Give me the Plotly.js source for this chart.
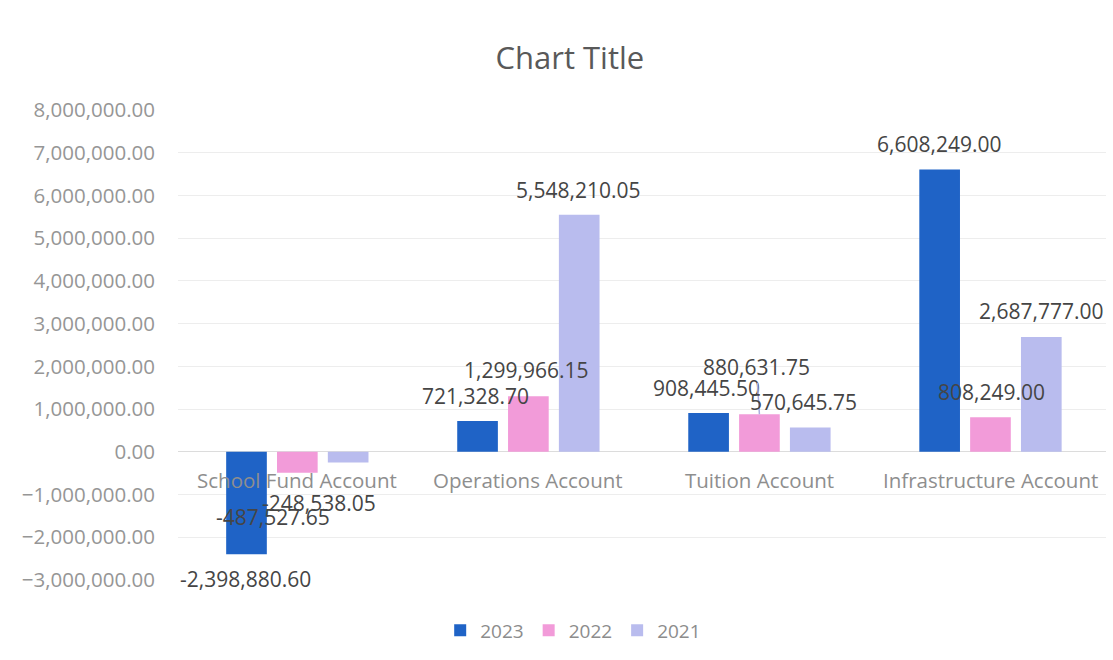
<!DOCTYPE html>
<html>
<head>
<meta charset="utf-8">
<script src="https://cdn.plot.ly/plotly-3.0.1.min.js"></script>
<style>html,body{margin:0;padding:0;background:#fff;}#chart{width:1113px;height:660px;}</style>
</head>
<body>
<div id="chart"></div>
<script>
// ---- data ----
const categories = ['School Fund Account', 'Operations Account', 'Tuition Account', 'Infrastructure Account'];
const seriesNames = ['2023', '2022', '2021'];
const values2023 = [-2398880.60, 721328.70, 908445.50, 6608249.00];
const values2022 = [-487527.65, 1299966.15, 880631.75, 808249.00];
const values2021 = [-248538.05, 5548210.05, 570645.75, 2687777.00];
const chartTitle = 'Chart Title';

// ---- style ----
const colors = ['#1f63c6', '#f29bd9', '#b9bcee'];
const font = '"Open Sans", "Noto Sans", sans-serif';
const bargap = 0.34, bargroupgap = 0.2;
// label offsets in px (relative to bar centre / bar end)
const labelDx = [[-1, -2, -2, -1], [-24, -2, -3, 1], [-29, -1, -7, 0]];
const labelDy = [[25, 25, 25, 25], [44, 26, 47, 25], [41, 25, 25, 26]];
const leader = [[false, false, false, false], [false, false, true, false], [false, false, false, false]];

const allValues = [values2023, values2022, values2021];
const fmt = v => v.toLocaleString('en-US', {minimumFractionDigits: 2, maximumFractionDigits: 2});

const traces = allValues.map((vals, s) => ({
  type: 'bar',
  name: seriesNames[s],
  x: categories,
  y: vals,
  marker: {color: colors[s]},
  hoverinfo: 'x+y'
}));

const slot = (1 - bargap) / 3;
const annotations = [];
allValues.forEach((vals, s) => {
  vals.forEach((v, i) => {
    const sign = v >= 0 ? 1 : -1;
    const xc = i + (s - 1) * slot;
    const base = {
      x: xc, y: v, xref: 'x', yref: 'y',
      text: fmt(v),
      font: {family: font, size: 21, color: '#454545'},
    };
    if (leader[s][i]) {
      annotations.push(Object.assign(base, {
        showarrow: true, arrowhead: 0, arrowwidth: 1.5, arrowcolor: '#a9acdf',
        ax: labelDx[s][i], ay: -sign * labelDy[s][i], standoff: 0
      }));
    } else {
      annotations.push(Object.assign(base, {
        showarrow: false, xshift: labelDx[s][i], yshift: sign * labelDy[s][i]
      }));
    }
  });
});
// category labels sitting on the zero line
categories.forEach((c, i) => {
  annotations.push({
    x: i, y: 0, xref: 'x', yref: 'y', text: c, showarrow: false, yshift: -28,
    font: {family: font, size: 20.5, color: '#8e8e8e'}
  });
});

const layout = {
  width: 1113, height: 660,
  paper_bgcolor: '#ffffff', plot_bgcolor: '#ffffff',
  margin: {l: 178, r: 7, t: 110, b: 80},
  title: {text: chartTitle, x: 0.512, xref: 'container', y: 0.912, yref: 'container', yanchor: 'middle',
          font: {family: font, size: 31, color: '#595959'}},
  barmode: 'group', bargap: bargap, bargroupgap: bargroupgap,
  xaxis: {type: 'category', showticklabels: false, showgrid: false, zeroline: false, showline: false, ticks: ''},
  yaxis: {range: [-3000000, 8000000], dtick: 1000000, tick0: 0, tickformat: ',.2f',
          gridcolor: '#ededed', gridwidth: 1, zeroline: true, zerolinecolor: '#dcdcdc', zerolinewidth: 1,
          showline: false, ticks: '', ticklabelstandoff: 22,
          tickfont: {family: font, size: 20.5, color: '#969696'}},
  showlegend: true,
  legend: {orientation: 'h', x: 0.515, xref: 'container', xanchor: 'center', y: 0.045, yref: 'container', yanchor: 'middle',
           font: {family: font, size: 19, color: '#8c8c8c'}, itemwidth: 30, traceorder: 'normal'},
  annotations: annotations
};

Plotly.newPlot('chart', traces, layout, {displayModeBar: false, staticPlot: true});
</script>
</body>
</html>
